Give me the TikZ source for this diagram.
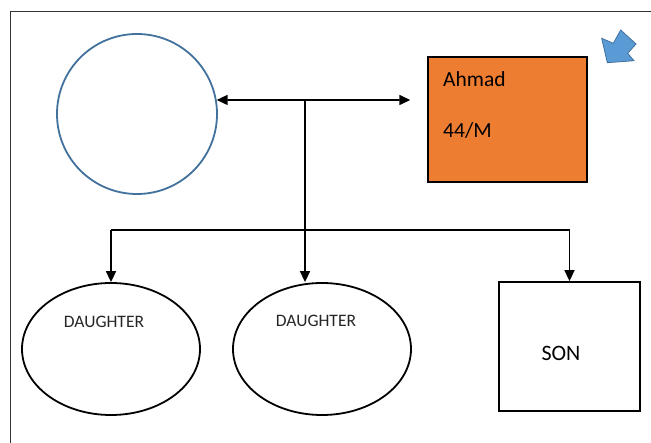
\documentclass[tikz,border=0pt]{standalone}
\usepackage{fontspec}
\setmainfont{Carlito}
\usepackage{xcolor}
\definecolor{ringblue}{HTML}{41719C}
\definecolor{iconblue}{HTML}{5B9BD5}
\definecolor{boxorange}{HTML}{ED7D31}
\definecolor{frameline}{HTML}{333333}
\usetikzlibrary{arrows.meta, shapes.geometric, calc}

\begin{document}
\begin{tikzpicture}[
        x=1pt, y=-1pt,
        person_ring/.style={
            circle,
            draw=ringblue,
            line width=1.8pt,
            minimum size=160pt,
            inner sep=0pt
        },
        daughter_oval/.style={
            ellipse,
            draw=black,
            line width=1.8pt,
            minimum width=178pt,
            minimum height=132pt,
            inner sep=0pt
        },
        son_box/.style={
            rectangle,
            draw=black,
            line width=1.8pt,
            minimum width=141pt,
            minimum height=129pt
        },
        tag/.style={
            inner sep=0pt,
            font=\fontsize{17.5}{20}\selectfont,
            text=black!85
        },
        name_tag/.style={
            inner sep=0pt,
            anchor=west,
            font=\fontsize{21.5}{25}\selectfont
        },
        link/.style={
            draw=black,
            line width=1.6pt
        },
        arrow/.style={
            link,
            -{Triangle[length=11pt, width=10pt]}
        }
    ]

    \useasboundingbox (0,0) rectangle (651,443);

    % Frame (left and top edge only)
    \draw[frameline, line width=0.9pt] (10,443) -- (10,11) -- (651,11);

    % Parents
    \node[person_ring] (mother) at (137,114) {};
    \node[rectangle, draw=black, line width=1.5pt, fill=boxorange,
          minimum width=159pt, minimum height=125pt] (father) at (507.5,119.5) {};
    \node[name_tag] (fname) at (443,79) {Ahmad};
    \node[name_tag] (fage) at (443,130) {44/M};

    % Children
    \node[daughter_oval] (girl_a) at (111,349) {};
    \node[daughter_oval] (girl_b) at (322,349) {};
    \node[son_box] (son) at (569.5,346.5) {};
    \node[tag] (girl_a_tag) at (104,322) {DAUGHTER};
    \node[tag] (girl_b_tag) at (316,321) {DAUGHTER};
    \node[tag, font=\fontsize{22}{25}\selectfont, text=black] (son_tag) at (561,353) {SON};

    % Marriage line
    \coordinate (union) at (305,100);
    \coordinate (bar) at (0,230);
    \draw[link, {Triangle[length=11pt, width=10pt]}-{Triangle[length=11pt, width=10pt]}]
        (mother.10) -- ($(father.west |- union) + (-17,0)$);

    % Descent to the children
    \draw[arrow] (union) -- (union |- girl_b.north);
    \draw[link] (girl_a.north |- bar) -- (son.north |- bar);
    \draw[arrow] (girl_a.north |- bar) -- (girl_a.north);
    \draw[arrow] (son.north |- bar) -- (son.north);

    % Corner icon
    \filldraw[fill=iconblue, draw=ringblue, line width=0.8pt]
        (620.7,30) -- (636,44) -- (627.7,53.3) -- (634,60.7) --
        (607.3,62.7) -- (601.7,38.3) -- (613.3,43.3) -- cycle;

\end{tikzpicture}
\end{document}
